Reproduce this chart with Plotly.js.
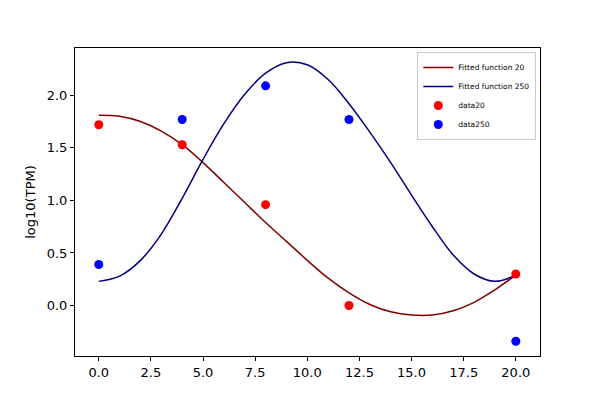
<!DOCTYPE html>
<html>
<head>
<meta charset="utf-8">
<script src="https://cdn.plot.ly/plotly-3.0.1.min.js"></script>
<style>
  body { margin: 0; background: #fff; }
  #chart { width: 600px; height: 400px; }
</style>
</head>
<body>
<div id="chart"></div>
<script>
// sample times
var times = [0, 4, 8, 12, 20];
var data20 = [1.72, 1.53, 0.96, 0.0, 0.30];
var data250 = [0.39, 1.77, 2.09, 1.77, -0.34];

// fitted curves at every unit step
var fitX = [0, 1, 2, 3, 4, 5, 6, 7, 8, 9, 10, 11, 12, 13, 14, 15, 16, 17, 18, 19, 20];
var fit20 = [1.81, 1.80, 1.75, 1.66, 1.53, 1.36, 1.17, 0.98, 0.79, 0.61, 0.43, 0.26, 0.12, 0.01, -0.06, -0.09, -0.09, -0.05, 0.03, 0.15, 0.29];
var fit250 = [0.23, 0.28, 0.43, 0.68, 1.02, 1.39, 1.73, 2.01, 2.21, 2.31, 2.29, 2.15, 1.92, 1.65, 1.36, 1.05, 0.75, 0.48, 0.30, 0.23, 0.29];

var xTicks = [0, 2.5, 5, 7.5, 10, 12.5, 15, 17.5, 20];
var yTicks = [0, 0.5, 1, 1.5, 2];

var font = "DejaVu Sans, sans-serif";

var traces = [
  {
    x: fitX, y: fit20, name: "Fitted function 20",
    mode: "lines", line: {color: "#800000", width: 1.5, shape: "spline", smoothing: 1}
  },
  {
    x: fitX, y: fit250, name: "Fitted function 250",
    mode: "lines", line: {color: "#000080", width: 1.5, shape: "spline", smoothing: 1}
  },
  {
    x: times, y: data20, name: "data20",
    mode: "markers", marker: {color: "#ff0000", size: 9}
  },
  {
    x: times, y: data250, name: "data250",
    mode: "markers", marker: {color: "#0000ff", size: 9}
  }
];

var axisStyle = {
  showgrid: false,
  zeroline: false,
  showline: true,
  mirror: true,
  linecolor: "#000",
  linewidth: 1,
  ticks: "outside",
  ticklen: 4,
  tickcolor: "#000",
  tickformat: ".1f",
  tickfont: {family: font, size: 13, color: "#000"}
};

var layout = {
  width: 600,
  height: 400,
  margin: {l: 75, r: 60, t: 48, b: 44},
  paper_bgcolor: "#fff",
  plot_bgcolor: "#fff",
  font: {family: font, color: "#000"},
  xaxis: Object.assign({}, axisStyle, {
    range: [-1.14, 21.16], tickvals: xTicks
  }),
  yaxis: Object.assign({}, axisStyle, {
    range: [-0.48, 2.45], tickvals: yTicks,
    title: {text: "log10(TPM)", font: {family: font, size: 13}, standoff: 8}
  }),
  legend: {
    x: 0.992, y: 0.987, xanchor: "right", yanchor: "top",
    bgcolor: "rgba(255,255,255,0.8)",
    bordercolor: "#ccc", borderwidth: 1,
    font: {family: font, size: 7.5},
    itemwidth: 30,
    tracegroupgap: 0
  },
  showlegend: true
};

Plotly.newPlot("chart", traces, layout, {staticPlot: true});
</script>
</body>
</html>
